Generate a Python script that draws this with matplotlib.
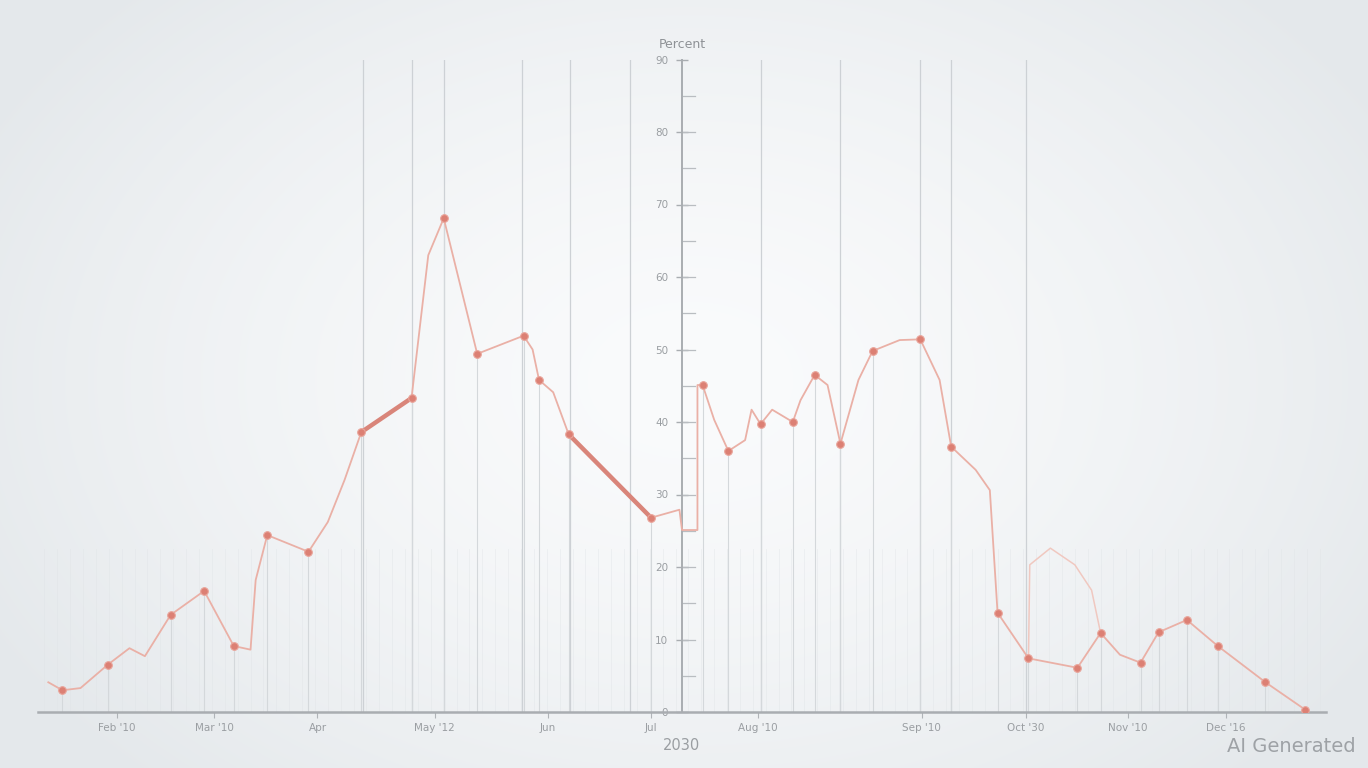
import numpy as np
import matplotlib
matplotlib.use("Agg")
import matplotlib.pyplot as plt

# ---------------- data ----------------
# main trace (x in arbitrary time units 0..100, y in percent)
line_x = [0.8, 1.9, 3.3, 5.4, 7.1, 8.3, 10.3, 12.9, 15.2, 16.5, 16.9, 17.8, 21.0, 22.5, 23.8,
          25.1, 29.0, 30.3, 31.5, 34.1, 37.7, 38.4, 38.9, 40.0, 41.2, 47.6, 49.8, 50.0, 51.2,
          51.2, 51.6, 52.5, 53.6, 54.9, 55.4, 56.1, 57.0, 58.6, 59.2, 60.3, 61.3, 62.3, 63.7,
          64.8, 66.9, 68.5, 70.0, 70.9, 72.8, 73.9, 74.5, 76.9, 80.7, 82.5, 84.0, 85.6, 87.0,
          89.2, 91.6, 95.3, 98.4]
line_y = [4.1, 3.0, 3.3, 6.5, 8.8, 7.7, 13.4, 16.7, 9.1, 8.6, 18.2, 24.4, 22.1, 26.2, 32.0,
          38.6, 43.3, 63.0, 68.1, 49.4, 51.9, 50.0, 45.8, 44.1, 38.3, 26.8, 27.9, 25.1, 25.1,
          45.1, 45.1, 40.3, 36.0, 37.5, 41.7, 39.7, 41.7, 40.0, 43.0, 46.5, 45.1, 37.0, 45.8,
          49.8, 51.3, 51.4, 45.8, 36.6, 33.4, 30.6, 13.7, 7.4, 6.1, 10.9, 7.9, 6.8, 11.0,
          12.7, 9.1, 4.1, 0.3]

# marked observations
mark_x = [1.9, 5.4, 10.3, 12.9, 15.2, 17.8, 21.0, 25.1, 29.0, 31.5, 34.1, 37.7, 38.9, 41.2,
          47.6, 51.6, 53.6, 56.1, 58.6, 60.3, 62.3, 64.8, 68.5, 70.9, 74.5, 76.9, 80.7, 82.5,
          85.6, 87.0, 89.2, 91.6, 95.3, 98.4]
mark_y = [3.0, 6.5, 13.4, 16.7, 9.1, 24.4, 22.1, 38.6, 43.3, 68.1, 49.4, 51.9, 45.8, 38.3,
          26.8, 45.1, 36.0, 39.7, 40.0, 46.5, 37.0, 49.8, 51.4, 36.6, 13.7, 7.4, 6.1, 10.9,
          6.8, 11.0, 12.7, 9.1, 4.1, 0.3]

# faint secondary loop
loop_x = [76.9, 77.0, 78.6, 80.5, 81.8, 82.5]
loop_y = [7.4, 20.3, 22.6, 20.3, 16.8, 10.9]

# emphasised segments
thick1_x = [25.1, 29.0]
thick1_y = [38.6, 43.3]
thick2_x = [41.2, 47.6]
thick2_y = [38.3, 26.8]

grid_x = [25.2, 29.0, 31.5, 37.6, 41.3, 46.0, 56.1, 62.3, 68.5, 70.9, 76.7]

tick_pos = [6.1, 13.7, 21.7, 30.8, 39.6, 47.6, 55.9, 68.6, 76.7, 84.6, 92.2]
tick_labels = ["Feb '10", "Mar '10", "Apr", "May '12", "Jun", "Jul",
               "Aug '10", "Sep '10", "Oct '30", "Nov '10", "Dec '16"]
y_ticks = [0, 10, 20, 30, 40, 50, 60, 70, 80, 90]

# ---------------- figure ----------------
W, H = 1368, 768
fig = plt.figure(figsize=(W / 100, H / 100), dpi=100)

# background radial gradient
bg = fig.add_axes([0, 0, 1, 1], zorder=-10)
yy, xx = np.mgrid[0:H, 0:W]
r = np.sqrt(((xx - 690) / 620.0) ** 2 + ((yy - 380) / 430.0) ** 2)
t = np.clip(r, 0, 1.3) / 1.3
c_in = np.array([250, 251, 252]) / 255.0
c_out = np.array([228, 232, 235]) / 255.0
img = c_in[None, None, :] * (1 - t[..., None] ** 1.5) + c_out[None, None, :] * (t[..., None] ** 1.5)
bg.imshow(img, aspect="auto", extent=[0, 1, 0, 1])
bg.axis("off")

left = 38 / W
right = 1326 / W
bottom = (H - 712) / H
top = (H - 59.5) / H
ax = fig.add_axes([left, bottom, right - left, top - bottom])
ax.set_facecolor("none")
ax.set_xlim(0, 100)
ax.set_ylim(0, 90)

# vertical grid lines
for gx in grid_x:
    ax.axvline(gx, color="#cdd1d5", lw=0.9, zorder=1)
for gx in np.arange(0.5, 100, 1.0):
    ax.axvline(gx, ymax=0.25, color="#dfe3e6", lw=0.6, zorder=0.5, alpha=0.45)

# stems from marks
ax.vlines(mark_x, 0, mark_y, color="#d4d8db", lw=0.8, zorder=1)

# lines
ax.plot(line_x, line_y, color="#eab0a6", lw=1.3, zorder=3)
ax.plot(loop_x, loop_y, color="#f0c8c0", lw=1.1, zorder=3)
ax.plot(thick1_x, thick1_y, color="#d9857a", lw=3.2, zorder=4, solid_capstyle="round")
ax.plot(thick2_x, thick2_y, color="#d9857a", lw=3.2, zorder=4, solid_capstyle="round")
ax.plot(mark_x, mark_y, ls="none", marker="o", ms=5.5, color="#dc8074",
        markeredgecolor="#e9a59b", markeredgewidth=0.8, zorder=5)

# spines
for s in ["top", "right"]:
    ax.spines[s].set_visible(False)
ax.spines["left"].set_position(("data", 50))
ax.spines["left"].set_color("#a9adb1")
ax.spines["left"].set_linewidth(1.4)
ax.spines["bottom"].set_color("#a9adb1")
ax.spines["bottom"].set_linewidth(1.8)

ax.set_yticks(y_ticks)
ax.set_yticklabels([str(v) for v in y_ticks])
ax.set_yticks(np.arange(5, 90, 5), minor=True)
ax.tick_params(axis="y", which="major", direction="inout", length=8, width=1.0,
               color="#a9adb1", labelsize=7.5, labelcolor="#9a9ea2", pad=6)
ax.tick_params(axis="y", which="minor", direction="out", length=0)
for yv in np.arange(5, 90, 5):
    ax.plot([50, 51.0], [yv, yv], color="#b9bdc1", lw=0.9, zorder=2, clip_on=False)

ax.set_xticks(tick_pos)
ax.set_xticklabels(tick_labels)
ax.tick_params(axis="x", direction="out", length=4, width=0.8, color="#b0b4b8",
               labelsize=7.5, labelcolor="#9a9ea2", pad=4)

ax.text(50, 91.2, "Percent", ha="center", va="bottom", fontsize=9, color="#8e9296")
ax.text(50, -4.6, "2030", ha="center", va="center", fontsize=10.5, color="#9a9ea2")

fig.text(1356 / W, (H - 746) / H, "AI Generated", ha="right", va="center",
         fontsize=14, color="#9ea2a6")

fig.savefig("out.png", dpi=100)
